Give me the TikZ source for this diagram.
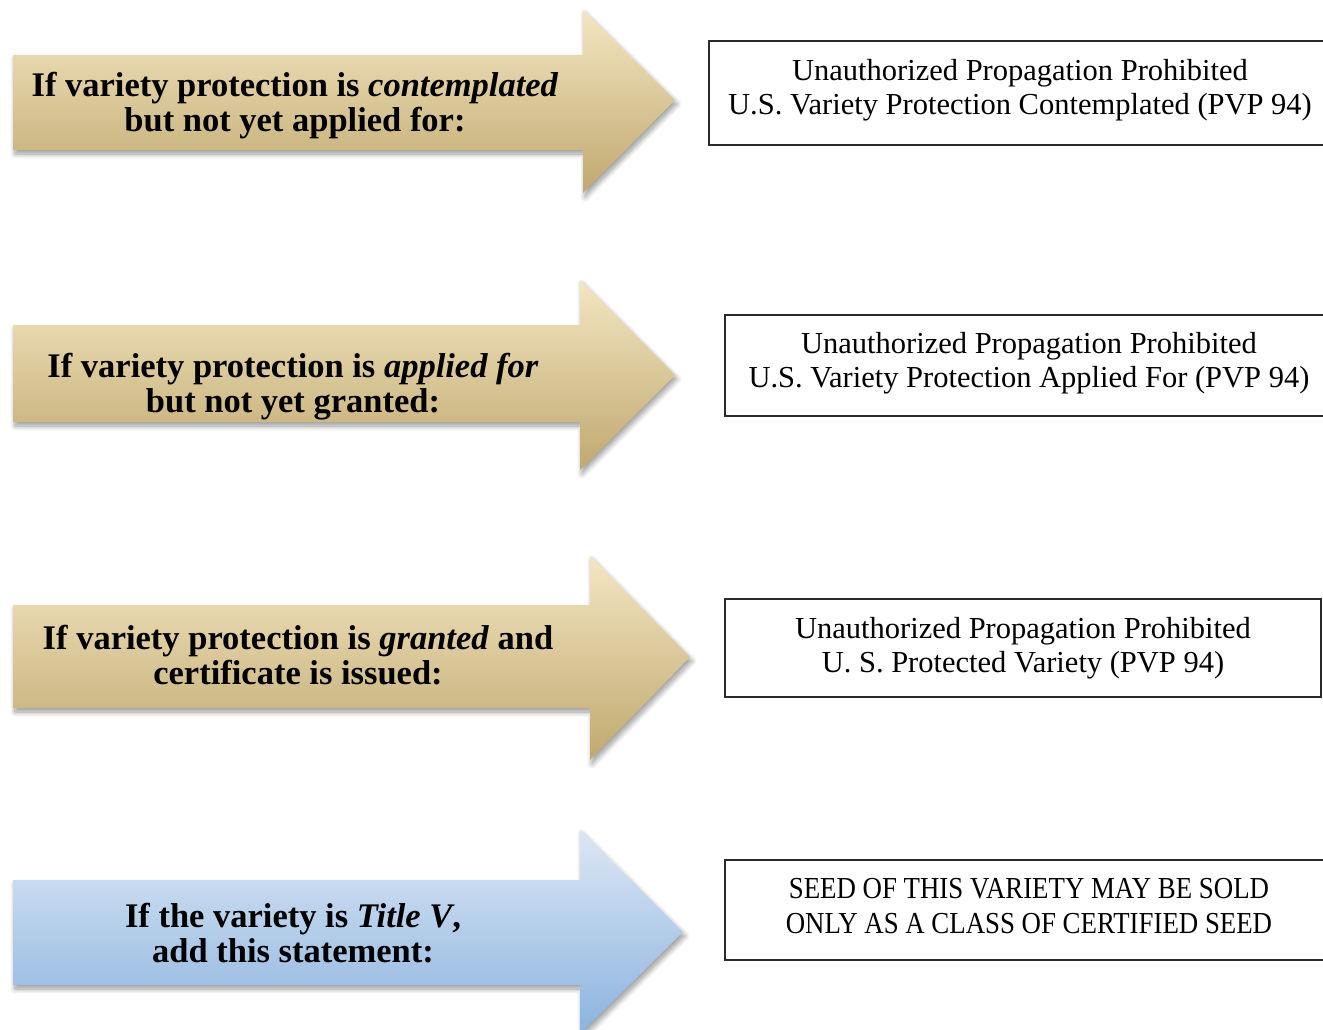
\documentclass[tikz,border=0pt]{standalone}
\usepackage{fontspec}
\setmainfont{Liberation Serif}
\usetikzlibrary{shadows.blur}
\definecolor{goldtop}{HTML}{F4E6C2}
\definecolor{goldbot}{HTML}{C0A970}
\definecolor{bluetop}{HTML}{DCE7F4}
\definecolor{bluebot}{HTML}{8BB3DF}
\definecolor{boxline}{HTML}{2A2A2A}
\tikzset{
  arrowshape/.style={blur shadow={shadow xshift=2pt,shadow yshift=-4pt,shadow blur steps=10,shadow blur radius=5pt,shadow opacity=40}},
  gold/.style={arrowshape,top color=goldtop,bottom color=goldbot},
  blue/.style={arrowshape,top color=bluetop,bottom color=bluebot},
  armtext/.style={align=center,inner sep=0pt,font=\bfseries\fontsize{34.5}{35}\selectfont},
  labelbox/.style={draw=boxline,line width=1.6pt,fill=white},
  boxtext/.style={align=center,inner sep=0pt,font=\fontsize{30.5}{34.5}\selectfont},
}
\begin{document}
\begin{tikzpicture}[x=1pt,y=-1pt]
\useasboundingbox (0,0) rectangle (1323,1030);
\begin{scope}
\clip (0,0) rectangle (1323,1030);
% arrows
\path[gold] (13,55) -- (583,55) -- (583,10) -- (675,100) -- (583,193) -- (583,150) -- (13,150) -- cycle;
\path[gold] (13,325) -- (580,325) -- (580,280) -- (675,375) -- (580,470) -- (580,422) -- (13,422) -- cycle;
\path[gold] (13,605) -- (590,605) -- (590,556) -- (690,657) -- (590,760) -- (590,708) -- (13,708) -- cycle;
\path[blue] (13,880) -- (580,880) -- (580,830) -- (683,932) -- (580,1034) -- (580,985) -- (13,985) -- cycle;
% boxes
\draw[labelbox] (709,41) rectangle (1340,145) coordinate (b1);
\draw[labelbox] (725,315) rectangle (1340,416) coordinate (b2);
\draw[labelbox] (725,599) rectangle (1321,697) coordinate (b3);
\draw[labelbox] (725,860) rectangle (1340,960) coordinate (b4);
\end{scope}
% arrow texts
\node[armtext] (a1) at (295,106) {If variety protection is \textit{contemplated}\\but not yet applied for:};
\node[armtext] (a2) at (293,387) {If variety protection is \textit{applied for}\\but not yet granted:};
\node[armtext] (a3) at (298,655) {If variety protection is \textit{granted} and\\certificate is issued:};
\node[armtext] (a4) at (293,933) {If the variety is \textit{Title V},\\add this statement:};
% box texts
\node[boxtext] (t1) at (1020,90) {Unauthorized Propagation Prohibited\\U.S. Variety Protection Contemplated (PVP 94)};
\node[boxtext] (t2) at (1029,363) {Unauthorized Propagation Prohibited\\U.S. Variety Protection Applied For (PVP 94)};
\node[boxtext] (t3) at (1023,648) {Unauthorized Propagation Prohibited\\U. S. Protected Variety (PVP 94)};
\node[boxtext,transform shape,xscale=0.88] (t4) at (1029,906) {SEED OF THIS VARIETY MAY BE SOLD\\ONLY AS A CLASS OF CERTIFIED SEED};
\end{tikzpicture}
\end{document}
